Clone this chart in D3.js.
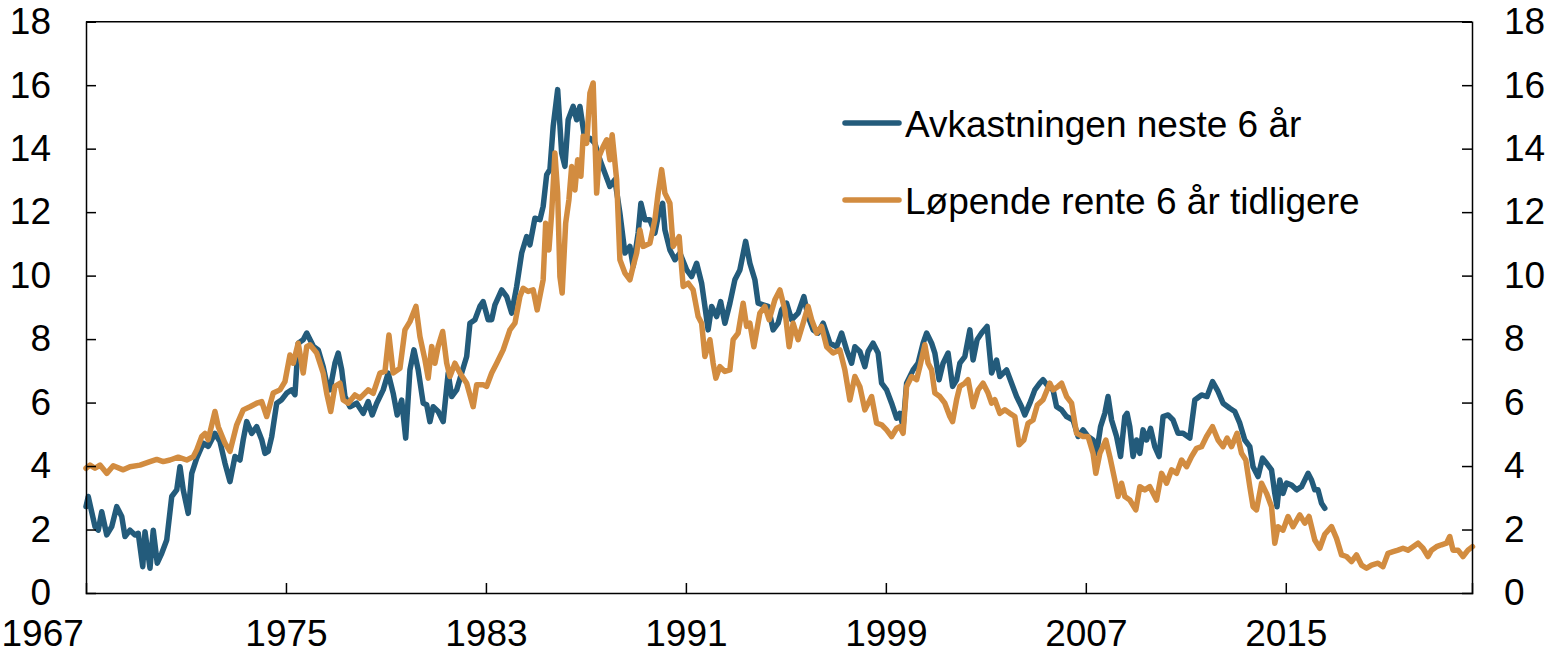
<!DOCTYPE html>
<html>
<head>
<meta charset="utf-8">
<script src="https://cdn.jsdelivr.net/npm/d3@7"></script>
<style>
  body { margin: 0; background: #fff; }
  svg text { font-family: "Liberation Sans", Arial, sans-serif; fill: #000; }
</style>
</head>
<body>
<div id="chart"></div>
<script>
var blueYears = [
  1967.00, 1967.09, 1967.36, 1967.49, 1967.63, 1967.83, 1968.03, 1968.23, 1968.43, 1968.56,
  1968.76, 1968.96, 1969.09, 1969.27, 1969.36, 1969.56, 1969.69, 1969.85, 1970.03, 1970.23,
  1970.43, 1970.63, 1970.76, 1970.89, 1971.09, 1971.23, 1971.43, 1971.69, 1971.89, 1972.16,
  1972.36, 1972.56, 1972.76, 1972.96, 1973.16, 1973.29, 1973.43, 1973.63, 1973.83, 1974.03,
  1974.16, 1974.29, 1974.43, 1974.63, 1974.83, 1975.03, 1975.23, 1975.36, 1975.49, 1975.69,
  1975.83, 1976.10, 1976.29, 1976.49, 1976.63, 1976.76, 1976.96, 1977.09, 1977.23, 1977.36,
  1977.56, 1977.83, 1978.09, 1978.29, 1978.45, 1978.63, 1978.89, 1979.09, 1979.29, 1979.45,
  1979.63, 1979.79, 1979.96, 1980.12, 1980.29, 1980.49, 1980.63, 1980.76, 1980.89, 1981.09,
  1981.29, 1981.49, 1981.63, 1981.83, 1982.03, 1982.23, 1982.36, 1982.56, 1982.76, 1982.89,
  1983.09, 1983.23, 1983.36, 1983.63, 1983.83, 1984.03, 1984.23, 1984.43, 1984.63, 1984.76,
  1984.96, 1985.16, 1985.29, 1985.43, 1985.56, 1985.69, 1985.87, 1986.03, 1986.16, 1986.29,
  1986.49, 1986.63, 1986.76, 1986.96, 1987.16, 1987.36, 1987.56, 1987.76, 1987.96, 1988.16,
  1988.36, 1988.56, 1988.76, 1988.89, 1989.09, 1989.20, 1989.36, 1989.56, 1989.76, 1989.89,
  1990.07, 1990.16, 1990.36, 1990.56, 1990.76, 1991.03, 1991.23, 1991.43, 1991.63, 1991.76,
  1991.89, 1992.03, 1992.23, 1992.39, 1992.56, 1992.76, 1992.96, 1993.16, 1993.39, 1993.56,
  1993.76, 1993.89, 1994.09, 1994.29, 1994.49, 1994.69, 1994.83, 1995.03, 1995.23, 1995.49,
  1995.72, 1995.89, 1996.09, 1996.29, 1996.49, 1996.76, 1997.03, 1997.23, 1997.43, 1997.63,
  1997.76, 1997.96, 1998.16, 1998.29, 1998.49, 1998.69, 1998.83, 1999.03, 1999.23, 1999.43,
  1999.56, 1999.69, 1999.83, 2000.09, 2000.29, 2000.49, 2000.63, 2000.83, 2000.96, 2001.13,
  2001.29, 2001.49, 2001.67, 2001.83, 2001.96, 2002.16, 2002.36, 2002.49, 2002.65, 2002.83,
  2003.05, 2003.23, 2003.43, 2003.56, 2003.83, 2004.03, 2004.23, 2004.43, 2004.56, 2004.76,
  2004.96, 2005.16, 2005.29, 2005.49, 2005.69, 2005.83, 2006.03, 2006.23, 2006.49, 2006.69,
  2006.89, 2007.09, 2007.29, 2007.43, 2007.59, 2007.76, 2007.89, 2008.03, 2008.23, 2008.39,
  2008.56, 2008.65, 2008.76, 2008.89, 2009.03, 2009.16, 2009.29, 2009.43, 2009.59, 2009.76,
  2009.93, 2010.09, 2010.29, 2010.49, 2010.69, 2010.89, 2011.16, 2011.36, 2011.63, 2011.85,
  2012.07, 2012.29, 2012.49, 2012.76, 2012.96, 2013.16, 2013.36, 2013.56, 2013.69, 2013.89,
  2014.07, 2014.23, 2014.43, 2014.56, 2014.65, 2014.76, 2014.89, 2015.03, 2015.23, 2015.43,
  2015.63, 2015.89, 2016.03, 2016.16, 2016.29, 2016.43, 2016.56
];
var blueValues = [
  2.72, 3.04, 2.09, 1.98, 2.56, 1.83, 2.09, 2.72, 2.41, 1.78,
  1.98, 1.83, 1.88, 0.83, 1.93, 0.78, 1.98, 0.94, 1.25, 1.67,
  3.04, 3.25, 3.98, 3.25, 2.51, 3.77, 4.25, 4.72, 4.62, 5.03,
  4.77, 4.09, 3.51, 4.30, 4.19, 4.83, 5.40, 5.03, 5.24, 4.83,
  4.40, 4.46, 4.93, 5.98, 6.09, 6.30, 6.40, 6.25, 7.87, 7.98,
  8.19, 7.77, 7.66, 7.13, 6.61, 6.40, 7.24, 7.56, 7.03, 6.19,
  5.87, 5.98, 5.66, 6.03, 5.61, 5.98, 6.40, 6.93, 6.29, 5.61,
  6.08, 4.88, 7.03, 7.66, 7.03, 5.98, 5.93, 5.40, 5.87, 5.72,
  5.40, 6.93, 6.19, 6.40, 6.93, 7.45, 8.50, 8.61, 9.03, 9.18,
  8.61, 8.61, 9.08, 9.55, 9.34, 8.82, 9.66, 10.71, 11.23, 10.97,
  11.81, 11.76, 12.18, 13.18, 13.34, 14.70, 15.86, 13.86, 13.44, 14.91,
  15.33, 14.91, 15.33, 14.28, 14.33, 14.17, 13.65, 13.23, 12.81, 13.02,
  11.97, 10.71, 10.92, 10.29, 11.34, 12.28, 11.76, 11.76, 11.34, 11.87,
  12.28, 11.44, 10.81, 10.50, 10.71, 10.18, 9.97, 10.39, 9.76, 9.03,
  8.29, 9.03, 8.71, 9.18, 8.50, 9.13, 9.87, 10.18, 11.08, 10.39,
  9.87, 9.13, 9.08, 9.03, 8.29, 8.50, 8.92, 9.13, 8.61, 8.82,
  9.34, 8.71, 8.29, 8.19, 8.50, 7.87, 7.76, 8.19, 7.66, 7.24,
  7.76, 7.61, 7.13, 7.61, 7.87, 7.56, 6.61, 6.40, 5.98, 5.51,
  5.66, 5.24, 6.61, 7.03, 7.24, 7.87, 8.19, 7.87, 7.56, 6.72,
  7.24, 7.56, 6.51, 6.72, 7.24, 7.45, 8.29, 7.34, 7.98, 8.19,
  8.40, 6.93, 7.34, 6.82, 7.03, 6.61, 6.19, 5.87, 5.61, 5.98,
  6.40, 6.61, 6.72, 6.51, 6.40, 5.87, 5.77, 5.56, 5.45, 4.93,
  5.14, 4.93, 4.82, 4.40, 5.24, 5.66, 6.19, 5.45, 4.93, 4.30,
  5.56, 5.66, 5.24, 4.30, 4.82, 4.40, 5.14, 4.82, 5.19, 4.61,
  4.30, 5.56, 5.61, 5.45, 5.03, 5.03, 4.88, 6.08, 6.24, 6.19,
  6.66, 6.35, 5.98, 5.82, 5.72, 5.35, 4.82, 4.61, 3.98, 3.67,
  4.25, 4.09, 3.88, 3.14, 2.72, 3.56, 3.14, 3.46, 3.40, 3.25,
  3.35, 3.77, 3.56, 3.25, 3.25, 2.83, 2.67
];

var orangeYears = [
  1967.00, 1967.16, 1967.36, 1967.56, 1967.83, 1968.09, 1968.49, 1968.76, 1969.16, 1969.56,
  1969.83, 1970.09, 1970.36, 1970.69, 1971.03, 1971.29, 1971.43, 1971.63, 1971.76, 1971.89,
  1972.16, 1972.29, 1972.56, 1972.76, 1973.03, 1973.29, 1973.56, 1973.83, 1974.03, 1974.23,
  1974.49, 1974.76, 1974.96, 1975.16, 1975.29, 1975.49, 1975.69, 1975.83, 1975.96, 1976.23,
  1976.49, 1976.63, 1976.79, 1976.96, 1977.16, 1977.29, 1977.49, 1977.76, 1977.96, 1978.29,
  1978.49, 1978.76, 1978.96, 1979.12, 1979.29, 1979.56, 1979.76, 1979.96, 1980.20, 1980.36,
  1980.56, 1980.69, 1980.83, 1980.96, 1981.09, 1981.27, 1981.43, 1981.56, 1981.76, 1981.96,
  1982.23, 1982.49, 1982.63, 1982.89, 1983.03, 1983.23, 1983.43, 1983.69, 1983.96, 1984.16,
  1984.36, 1984.49, 1984.69, 1984.89, 1985.05, 1985.29, 1985.39, 1985.52, 1985.63, 1985.76,
  1985.87, 1985.96, 1986.05, 1986.19, 1986.32, 1986.43, 1986.56, 1986.67, 1986.80, 1986.89,
  1987.03, 1987.16, 1987.29, 1987.43, 1987.53, 1987.69, 1987.83, 1987.96, 1988.05, 1988.23,
  1988.36, 1988.56, 1988.76, 1988.89, 1989.03, 1989.16, 1989.29, 1989.56, 1989.76, 1989.89,
  1990.03, 1990.16, 1990.36, 1990.49, 1990.73, 1990.89, 1991.09, 1991.29, 1991.49, 1991.63,
  1991.76, 1991.96, 1992.09, 1992.20, 1992.36, 1992.56, 1992.76, 1992.89, 1993.09, 1993.29,
  1993.43, 1993.56, 1993.72, 1993.96, 1994.16, 1994.33, 1994.56, 1994.76, 1994.96, 1995.13,
  1995.29, 1995.49, 1995.69, 1995.89, 1996.03, 1996.23, 1996.43, 1996.63, 1996.89, 1997.16,
  1997.36, 1997.56, 1997.76, 1997.96, 1998.16, 1998.43, 1998.63, 1998.83, 1999.03, 1999.23,
  1999.43, 1999.56, 1999.69, 1999.83, 2000.03, 2000.23, 2000.36, 2000.56, 2000.69, 2000.83,
  2000.96, 2001.16, 2001.36, 2001.56, 2001.67, 2001.83, 2001.96, 2002.16, 2002.29, 2002.49,
  2002.69, 2002.89, 2003.09, 2003.23, 2003.36, 2003.56, 2003.76, 2003.96, 2004.16, 2004.33,
  2004.52, 2004.69, 2004.89, 2005.06, 2005.29, 2005.56, 2005.69, 2005.89, 2006.03, 2006.23,
  2006.43, 2006.63, 2006.89, 2007.09, 2007.29, 2007.40, 2007.56, 2007.80, 2007.96, 2008.16,
  2008.29, 2008.43, 2008.56, 2008.76, 2009.00, 2009.16, 2009.36, 2009.56, 2009.83, 2010.03,
  2010.23, 2010.43, 2010.63, 2010.83, 2011.03, 2011.23, 2011.43, 2011.63, 2011.83, 2012.07,
  2012.29, 2012.49, 2012.65, 2012.83, 2013.05, 2013.23, 2013.40, 2013.56, 2013.69, 2013.83,
  2014.03, 2014.23, 2014.43, 2014.56, 2014.69, 2014.89, 2015.09, 2015.29, 2015.56, 2015.76,
  2015.93, 2016.16, 2016.36, 2016.56, 2016.83, 2017.03, 2017.23, 2017.43, 2017.63, 2017.83,
  2018.03, 2018.23, 2018.43, 2018.69, 2018.89, 2019.09, 2019.29, 2019.49, 2019.69, 2019.89,
  2020.09, 2020.29, 2020.49, 2020.69, 2020.83, 2021.03, 2021.23, 2021.43, 2021.56, 2021.69,
  2021.89, 2022.09, 2022.29, 2022.47
];
var orangeValues = [
  3.93, 4.03, 3.93, 4.03, 3.77, 4.01, 3.88, 3.98, 4.03, 4.14,
  4.21, 4.14, 4.19, 4.28, 4.19, 4.29, 4.51, 4.93, 5.03, 4.83,
  5.72, 5.24, 4.72, 4.46, 5.30, 5.77, 5.87, 5.98, 6.03, 5.56,
  6.30, 6.40, 6.66, 7.50, 7.24, 7.87, 6.93, 7.76, 7.82, 7.56,
  6.93, 6.29, 5.72, 6.51, 6.61, 6.08, 5.98, 6.24, 6.14, 6.40,
  6.29, 6.93, 6.98, 8.13, 6.93, 7.08, 8.29, 8.55, 9.03, 8.08,
  7.35, 6.77, 7.77, 7.24, 7.77, 8.24, 7.24, 6.82, 7.24, 6.93,
  6.61, 5.87, 6.56, 6.56, 6.51, 6.93, 7.24, 7.66, 8.29, 8.50,
  9.34, 9.60, 9.50, 9.55, 8.92, 9.87, 11.65, 10.81, 11.97, 13.86,
  12.60, 9.97, 9.45, 11.65, 12.39, 13.44, 12.70, 13.65, 13.13, 14.39,
  14.17, 15.75, 16.07, 12.60, 13.76, 14.07, 14.28, 13.65, 14.44, 13.02,
  10.50, 10.08, 9.87, 10.29, 10.71, 11.44, 10.92, 11.02, 11.76, 12.60,
  13.34, 12.60, 12.28, 10.92, 11.23, 9.66, 9.76, 9.55, 8.71, 8.50,
  7.45, 7.98, 7.24, 6.77, 7.13, 6.98, 7.03, 7.98, 8.19, 9.13,
  8.40, 8.50, 7.76, 8.82, 9.03, 8.61, 9.24, 9.55, 8.92, 7.76,
  8.50, 7.98, 8.50, 9.03, 8.61, 8.19, 8.40, 7.76, 7.56, 7.66,
  7.03, 6.08, 6.82, 6.50, 5.77, 6.19, 5.35, 5.30, 5.14, 4.93,
  5.19, 5.24, 5.03, 6.51, 6.82, 6.72, 7.13, 7.82, 7.24, 7.03,
  6.30, 6.19, 5.98, 5.56, 5.40, 6.09, 6.51, 6.61, 6.72, 5.87,
  6.40, 6.61, 6.30, 5.98, 6.09, 5.66, 5.77, 5.66, 5.56, 4.67,
  4.82, 5.35, 5.45, 5.92, 6.09, 6.61, 6.40, 6.51, 6.61, 6.19,
  5.98, 5.03, 4.93, 4.93, 4.40, 3.77, 4.40, 4.82, 4.30, 3.56,
  3.04, 3.46, 3.04, 2.93, 2.62, 3.35, 3.25, 3.35, 2.93, 3.77,
  3.46, 3.88, 3.77, 4.19, 3.98, 4.30, 4.56, 4.61, 4.93, 5.24,
  4.82, 4.61, 4.88, 4.61, 5.03, 4.40, 4.19, 3.35, 2.72, 2.62,
  3.46, 3.14, 2.72, 1.57, 2.09, 1.98, 2.41, 2.09, 2.46, 2.20,
  2.41, 1.67, 1.41, 1.85, 2.09, 1.72, 1.20, 1.15, 0.99, 1.20,
  0.88, 0.78, 0.88, 0.94, 0.83, 1.25, 1.30, 1.35, 1.41, 1.35,
  1.46, 1.57, 1.41, 1.15, 1.35, 1.46, 1.52, 1.57, 1.78, 1.35,
  1.35, 1.15, 1.35, 1.46
];

var yTicks = [0, 2, 4, 6, 8, 10, 12, 14, 16, 18];
var xTicks = [1967, 1975, 1983, 1991, 1999, 2007, 2015];
var seriesNames = ['Avkastningen neste 6 år', 'Løpende rente 6 år tidligere'];
var seriesColours = ['#235b7b', '#d28c40'];

var width = 1555, height = 654;
var margin = { left: 86, right: 83, top: 21.7, bottom: 61 };

var svg = d3.select('#chart')
  .append('svg')
  .attr('width', width)
  .attr('height', height);

var x = d3.scaleLinear()
  .domain([1967, 2022.45])
  .range([margin.left, width - margin.right]);

var y = d3.scaleLinear()
  .domain([0, 18])
  .range([height - margin.bottom, margin.top]);

// lines first, frame on top
var line = d3.line()
  .x(function(d) { return x(d[0]); })
  .y(function(d) { return y(d[1]); });

var series = [
  d3.zip(blueYears, blueValues),
  d3.zip(orangeYears, orangeValues)
];

svg.append('g').selectAll('path')
  .data(series)
  .join('path')
  .attr('fill', 'none')
  .attr('stroke', function(d, i) { return seriesColours[i]; })
  .attr('stroke-width', 5.5)
  .attr('stroke-linejoin', 'round')
  .attr('stroke-linecap', 'round')
  .attr('d', line);

// axes, ticks pointing inwards
var fontSize = 37;

var left = svg.append('g')
  .attr('transform', 'translate(' + margin.left + ',0)')
  .call(d3.axisLeft(y).tickValues(yTicks).tickSize(-10).tickPadding(35));

var right = svg.append('g')
  .attr('transform', 'translate(' + (width - margin.right) + ',0)')
  .call(d3.axisRight(y).tickValues(yTicks).tickSize(-10).tickPadding(32));

var bottom = svg.append('g')
  .attr('transform', 'translate(0,' + (height - margin.bottom) + ')')
  .call(d3.axisBottom(x).tickValues(xTicks).tickFormat(d3.format('d')).tickSize(-10).tickPadding(27));

[left, right, bottom].forEach(function(g) {
  g.select('.domain').attr('stroke', '#000').attr('stroke-width', 1.5);
  g.selectAll('.tick line').attr('stroke', '#000').attr('stroke-width', 1.5);
  g.selectAll('.tick text')
    .attr('font-size', fontSize + 'px')
    .attr('font-family', '"Liberation Sans", Arial, sans-serif')
    .attr('fill', '#000');
});
left.selectAll('.tick').filter(function(d) { return d === 0 || d === 18; }).select('line').remove();
right.selectAll('.tick').filter(function(d) { return d === 0 || d === 18; }).select('line').remove();
bottom.selectAll('.tick').filter(function(d) { return d === 1967; }).select('line').remove();
// first year label sits left of the axis corner, as in the original
bottom.selectAll('.tick').filter(function(d) { return d === 1967; }).select('text')
  .attr('text-anchor', 'start')
  .attr('x', -margin.left + 1);

// top border
svg.append('line')
  .attr('x1', margin.left)
  .attr('x2', width - margin.right)
  .attr('y1', margin.top)
  .attr('y2', margin.top)
  .attr('stroke', '#000')
  .attr('stroke-width', 1.5);

// legend
var legend = svg.append('g').attr('transform', 'translate(845,123)');
var item = legend.selectAll('g')
  .data(seriesNames)
  .join('g')
  .attr('transform', function(d, i) { return 'translate(0,' + (i * 77) + ')'; });

item.append('line')
  .attr('x1', 0)
  .attr('x2', 54)
  .attr('stroke', function(d, i) { return seriesColours[i]; })
  .attr('stroke-width', 5.5)
  .attr('stroke-linecap', 'round');

item.append('text')
  .attr('x', 60)
  .attr('y', 13.5)
  .attr('font-size', '37px')
  .text(function(d) { return d; });
</script>
</body>
</html>
